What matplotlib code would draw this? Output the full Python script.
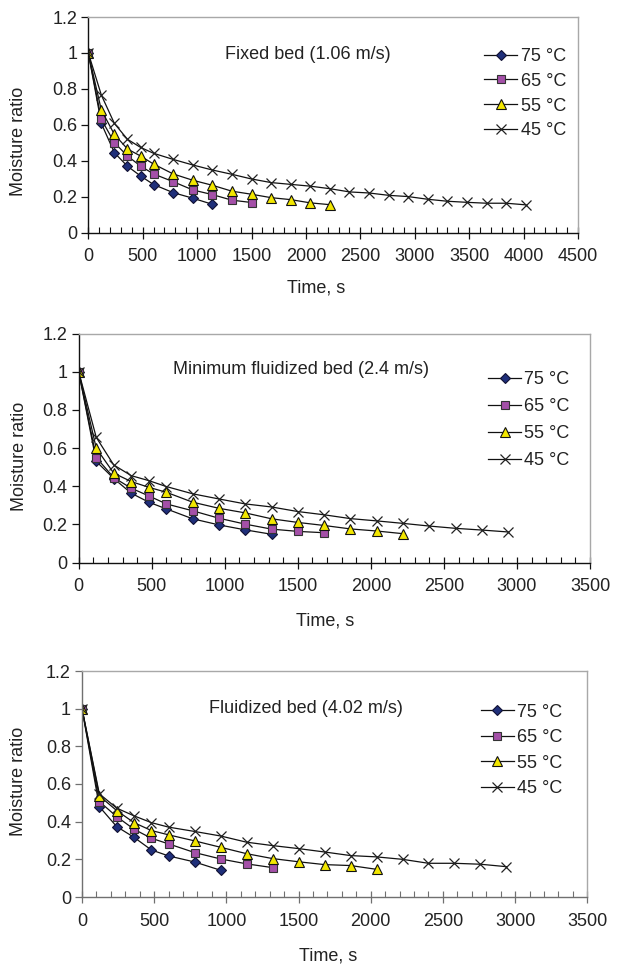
import matplotlib
matplotlib.use("Agg")
import matplotlib.pyplot as plt
from matplotlib.ticker import MultipleLocator

plt.rcParams['font.family'] = ['Liberation Sans', 'DejaVu Sans']

# ---------------- data ----------------
TIME = [0, 120, 240, 360, 480, 600, 780, 960, 1140, 1320, 1500, 1680, 1860,
        2040, 2220, 2400, 2580, 2760, 2940, 3120, 3300, 3480, 3660, 3840, 4020]
LABELS = ["75 °C", "65 °C", "55 °C", "45 °C"]
TITLES = ["Fixed bed (1.06 m/s)", "Minimum fluidized bed (2.4 m/s)", "Fluidized bed (4.02 m/s)"]
XMAX = [4500, 3500, 3500]

fixed_75 = [1, 0.607, 0.444, 0.369, 0.315, 0.267, 0.222, 0.191, 0.157]
fixed_65 = [1, 0.63, 0.50, 0.426, 0.37, 0.326, 0.283, 0.237, 0.211, 0.18, 0.167]
fixed_55 = [1, 0.681, 0.546, 0.465, 0.426, 0.381, 0.326, 0.291, 0.263, 0.23, 0.213,
            0.194, 0.183, 0.165, 0.155]
fixed_45 = [1, 0.765, 0.607, 0.519, 0.474, 0.441, 0.407, 0.376, 0.348, 0.324, 0.298,
            0.278, 0.268, 0.258, 0.244, 0.226, 0.220, 0.207, 0.200, 0.185, 0.174,
            0.168, 0.163, 0.163, 0.154]

minfl_75 = [1, 0.53, 0.44, 0.363, 0.316, 0.281, 0.229, 0.197, 0.171, 0.148]
minfl_65 = [1, 0.55, 0.445, 0.389, 0.349, 0.307, 0.271, 0.232, 0.201, 0.175, 0.163, 0.156]
minfl_55 = [1, 0.599, 0.468, 0.424, 0.394, 0.368, 0.316, 0.284, 0.26, 0.229, 0.21,
            0.194, 0.176, 0.165, 0.151]
minfl_45 = [1, 0.656, 0.511, 0.455, 0.429, 0.398, 0.360, 0.333, 0.307, 0.291, 0.267,
            0.25, 0.230, 0.218, 0.205, 0.191, 0.179, 0.170, 0.160]

fluid_75 = [1, 0.48, 0.374, 0.317, 0.25, 0.218, 0.186, 0.142]
fluid_65 = [1, 0.507, 0.427, 0.36, 0.312, 0.282, 0.236, 0.202, 0.176, 0.156]
fluid_55 = [1, 0.537, 0.459, 0.395, 0.353, 0.33, 0.298, 0.264, 0.230, 0.204, 0.187,
            0.172, 0.167, 0.147]
fluid_45 = [1, 0.548, 0.472, 0.431, 0.395, 0.371, 0.348, 0.324, 0.291, 0.273, 0.257,
            0.239, 0.220, 0.213, 0.200, 0.179, 0.179, 0.174, 0.161]

PANELS = [
    [fixed_75, fixed_65, fixed_55, fixed_45],
    [minfl_75, minfl_65, minfl_55, minfl_45],
    [fluid_75, fluid_65, fluid_55, fluid_45],
]

# ---------------- style ----------------
W, H = 617, 964
FS = 13
TXT = '#222222'
STYLES = [
    dict(marker='D', markersize=5.3, markerfacecolor='#1f2f7a', markeredgecolor='#111133', markeredgewidth=0.8),
    dict(marker='s', markersize=5.7, markerfacecolor='#a450a8', markeredgecolor='#333333', markeredgewidth=0.8),
    dict(marker='^', markersize=6.7, markerfacecolor='#f2e600', markeredgecolor='#111111', markeredgewidth=0.8),
    dict(marker='x', markersize=6.5, markerfacecolor='none', markeredgecolor='#222222', markeredgewidth=0.9),
]

# axes boxes in pixels: left, right, top, bottom
BOXES = [(88.3, 578, 17, 232.5), (78.7, 590, 333.5, 562.5), (82, 587.3, 671, 897)]
AXCOL = ['#111111', '#111111', '#707070']
TITLE_POS = [(0.448, 0.824), (0.435, 0.841), (0.443, 0.832)]
LEG_POS = [(0.809, 0.856), (0.801, 0.835), (0.790, 0.856)]
LEG_SP = [0.43, 0.55, 0.47]
YLAB = [(18.5, 141), (19.3, 456), (18.3, 781)]
XLAB = [(316.3, 288), (325, 621), (328.3, 956)]

fig = plt.figure(figsize=(W / 100, H / 100), dpi=100)

for i, series in enumerate(PANELS):
    l, r, t, b = BOXES[i]
    ax = fig.add_axes([l / W, 1 - b / H, (r - l) / W, (b - t) / H])
    for vals, lab, st in zip(series, LABELS, STYLES):
        ax.plot(TIME[:len(vals)], vals, color='#111111', linewidth=0.9, label=lab, **st)
    ax.set_xlim(0, XMAX[i])
    ax.set_ylim(0, 1.2)
    ax.xaxis.set_minor_locator(MultipleLocator(100))
    ax.set_yticks([0, 0.2, 0.4, 0.6, 0.8, 1.0, 1.2])
    ax.set_yticklabels(['0', '0.2', '0.4', '0.6', '0.8', '1', '1.2'])
    ax.set_xticks(list(range(0, XMAX[i] + 1, 500)))
    ax.set_xticklabels([str(v) for v in range(0, XMAX[i] + 1, 500)])
    for s in ['top', 'right']:
        ax.spines[s].set_color('#a8a8a8')
        ax.spines[s].set_linewidth(1.0)
    for s in ['left', 'bottom']:
        ax.spines[s].set_color(AXCOL[i])
        ax.spines[s].set_linewidth(1.0)
    ax.tick_params(axis='x', which='major', direction='inout', length=9, width=0.9,
                   color=AXCOL[i], labelsize=FS, labelcolor=TXT, pad=7)
    ax.tick_params(axis='x', which='minor', direction='in', length=4, width=0.8, color=AXCOL[i])
    ax.tick_params(axis='y', which='major', direction='out', length=5, width=0.9,
                   color=AXCOL[i], labelsize=FS, labelcolor=TXT, pad=3)
    ax.text(TITLE_POS[i][0], TITLE_POS[i][1], TITLES[i], transform=ax.transAxes,
            ha='center', va='center', fontsize=FS, color=TXT)
    ax.legend(loc='upper left', bbox_to_anchor=LEG_POS[i], frameon=False, fontsize=FS,
              borderpad=0, borderaxespad=0, handlelength=1.8, handletextpad=0.2,
              labelspacing=LEG_SP[i], numpoints=1, labelcolor=TXT)
    fig.text(YLAB[i][0] / W, 1 - YLAB[i][1] / H, 'Moisture ratio', rotation=90,
             ha='center', va='center', fontsize=FS, color=TXT)
    fig.text(XLAB[i][0] / W, 1 - XLAB[i][1] / H, 'Time, s',
             ha='center', va='center', fontsize=FS, color=TXT)

fig.savefig('out.png', dpi=100)
